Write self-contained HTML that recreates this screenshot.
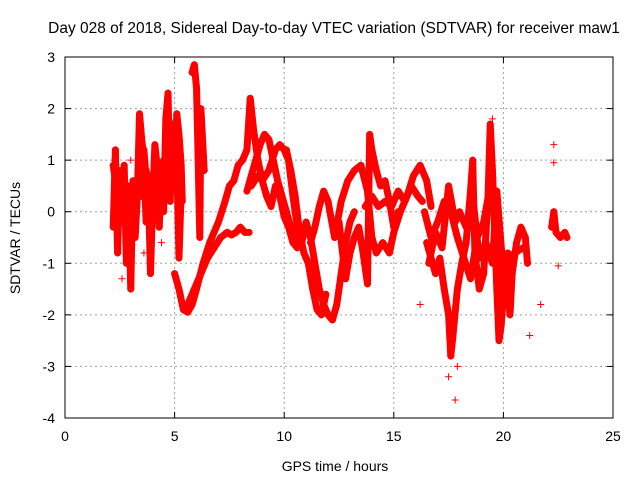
<!DOCTYPE html>
<html><head><meta charset="utf-8"><style>
body{margin:0;background:#fff}
svg{display:block;font-family:"Liberation Sans",sans-serif}
</style></head><body>
<svg id="c" width="640" height="480">
<text x="334" y="33" text-anchor="middle" font-size="15.5">Day 028 of 2018, Sidereal Day-to-day VTEC variation (SDTVAR) for receiver maw1</text>
<text x="335" y="471" text-anchor="middle" font-size="14">GPS time / hours</text>
<text transform="translate(20,238) rotate(-90)" text-anchor="middle" font-size="14">SDTVAR / TECUs</text>
<g id="grid"></g><g id="marks"></g>
<rect x="65" y="57" width="548" height="361" fill="none" stroke="#000"/>
</svg>
<script>
const xTicks=[0,5,10,15,20,25];
const yTicks=[-4,-3,-2,-1,0,1,2,3];
const trackA=[[2.2,-0.3],[2.3,1.2],[2.4,-0.8],[2.5,0.8],[2.6,-0.2],[2.7,0.9],[2.8,-1.0],[2.9,0.2],[3.0,-1.5],[3.1,0.6],[3.2,-0.5],[3.3,0.3],[3.4,1.9],[3.5,1.4],[3.6,1.0],[3.7,-0.2],[3.8,0.5],[3.9,-1.2],[4.0,0.2],[4.1,1.3],[4.2,0.9],[4.3,-0.3],[4.4,0.8],[4.5,0.0],[4.6,1.8],[4.7,2.3],[4.8,0.2],[4.9,1.7],[5.0,0.6],[5.1,1.9],[5.2,1.5],[5.3,0.9],[5.35,0.2]];
const trackB=[[2.3,0.6],[2.5,0.1],[2.7,0.4],[2.9,0.5],[3.1,-0.2],[3.3,0.5],[3.5,0.3],[3.7,0.8],[3.9,0.4],[4.1,-0.1],[4.3,0.5],[4.5,1.0],[4.7,0.9],[4.9,0.6],[5.1,1.0],[5.2,-0.9],[5.3,0.4]];
const trackB2=[[2.2,0.9],[2.4,0.3],[2.6,0.6],[2.8,0.0],[3.0,0.4],[3.2,0.2],[3.4,0.9],[3.6,1.2],[3.8,0.1],[4.0,0.7],[4.2,0.3],[4.4,0.2],[4.6,0.6],[4.8,1.2],[5.0,1.4],[5.2,0.7]];
const trackSpike=[[5.8,2.7],[5.9,2.85],[6.0,2.4],[6.05,1.5],[6.1,0.5],[6.15,-0.5],[6.2,2.0],[6.3,1.2],[6.35,0.8]];
const trackC=[[5.0,-1.2],[5.2,-1.5],[5.4,-1.9],[5.6,-1.95],[5.8,-1.8],[6.0,-1.5],[6.3,-1.0],[6.6,-0.6],[7.0,-0.2],[7.3,0.2],[7.5,0.5],[7.7,0.6],[7.9,0.9],[8.1,1.0],[8.3,1.2],[8.45,2.2],[8.6,1.6],[8.8,1.0],[9.0,0.6],[9.2,0.3],[9.4,0.1],[9.6,0.5],[9.8,0.3],[10.0,-0.1],[10.2,-0.3],[10.4,-0.6],[10.6,-0.7],[10.8,-0.6],[11.0,-0.2],[11.2,-0.5],[11.4,-1.0],[11.6,-1.5],[11.8,-1.8],[12.0,-2.0],[12.2,-2.1],[12.4,-1.8],[12.6,-1.2],[12.8,-0.6],[13.0,-0.2],[13.2,0.0]];
const trackD=[[5.6,-1.8],[5.9,-1.5],[6.2,-1.2],[6.5,-0.9],[6.8,-0.7],[7.1,-0.5],[7.4,-0.4],[7.6,-0.45],[7.8,-0.4],[8.0,-0.3],[8.2,-0.4],[8.4,-0.4]];
const trackE=[[8.3,0.4],[8.5,0.7],[8.7,1.0],[8.9,1.3],[9.1,1.5],[9.3,1.4],[9.5,1.0],[9.7,0.6],[9.9,0.3],[10.1,0.0],[10.3,-0.3],[10.5,-0.5],[10.7,-0.6]];
const trackF=[[8.5,0.5],[8.8,0.7],[9.0,0.6],[9.3,0.8],[9.6,1.2],[9.8,1.3],[10.0,1.2],[10.2,1.0],[10.4,0.3],[10.6,-0.3],[10.8,-0.5]];
const trackG=[[10.1,1.2],[10.3,0.8],[10.5,0.3],[10.7,-0.4],[10.9,-0.8],[11.1,-1.0],[11.3,-1.5],[11.5,-1.9],[11.7,-2.0],[11.9,-1.6]];
const trackH=[[11.2,-0.6],[11.4,-0.3],[11.6,0.1],[11.8,0.4],[12.0,0.2],[12.3,-0.5],[12.6,0.2],[12.9,0.6],[13.2,0.8],[13.5,0.9],[13.8,0.4],[14.0,-0.5],[14.2,-0.8],[14.5,-0.6],[14.8,-0.8],[15.0,-0.4],[15.3,0.0],[15.6,0.3],[15.9,0.7],[16.2,0.9],[16.5,0.6],[16.7,0.1]];
const trackK=[[12.5,-0.2],[12.8,-1.3],[13.0,-0.8],[13.2,-0.5],[13.4,-0.3],[13.6,-0.8],[13.8,-1.4],[13.9,1.5],[14.0,1.2],[14.2,0.8],[14.4,0.5],[14.6,0.6],[14.8,0.2],[15.0,-0.3],[15.2,0.0]];
const trackJ=[[13.7,0.1],[14.0,0.3],[14.3,0.1],[14.6,0.2],[14.9,0.1],[15.2,0.4],[15.5,0.2],[15.8,0.5],[16.1,0.3],[16.3,0.2]];
const trackL=[[16.5,-0.6],[16.7,-0.9],[16.9,-1.2],[17.1,-0.9],[17.3,-1.5],[17.5,-2.0],[17.6,-2.8],[17.7,-2.4],[17.9,-1.5],[18.1,-1.0],[18.3,-0.6],[18.5,0.4],[18.6,1.0],[18.7,-0.8],[18.9,-1.5],[19.1,-1.2],[19.3,0.3],[19.4,1.7],[19.5,0.8],[19.6,-0.3],[19.7,-1.5],[19.8,-2.5],[19.9,-2.2],[20.1,-1.0],[20.3,-2.0],[20.4,-1.2],[20.6,-0.6],[20.8,-0.3],[21.0,-0.5],[21.1,-1.0]];
const trackM=[[16.4,0.0],[16.7,-0.5],[17.0,-0.2],[17.3,0.2],[17.6,0.0],[17.9,-0.5],[18.2,-0.9],[18.5,-1.3],[18.8,-0.5],[19.1,-0.2],[19.4,0.5],[19.6,0.0],[19.9,-1.5],[20.2,-0.8]];
const trackN=[[16.6,-1.0],[16.9,-0.4],[17.2,-0.7],[17.5,0.5],[17.8,-0.2],[18.0,0.0],[18.3,-0.3],[18.6,0.3],[18.9,-0.9],[19.2,-0.6],[19.5,-1.0],[19.7,0.4],[20.0,-1.2],[20.5,-0.8],[20.9,-0.7]];
const trackTail=[[22.2,-0.3],[22.3,0.0],[22.4,-0.4],[22.6,-0.5],[22.8,-0.4],[22.9,-0.5]];
const isolated=[[17.8,-3.65],[22.3,1.3],[22.3,0.95],[22.5,-1.05],[21.7,-1.8],[21.2,-2.4],[17.9,-3.0],[16.2,-1.8],[17.5,-3.2],[19.5,1.8],[2.6,-1.3],[3.6,-0.8],[3.0,1.0],[4.4,-0.6]];
const tracks=[trackA,trackB,trackB2,trackSpike,trackC,trackD,trackE,trackF,trackG,trackH,trackK,trackJ,trackL,trackM,trackN,trackTail];
const X0=65,X1=613,Y0=418,Y1=57;
const sx=t=>X0+(t-0)/(25-0)*(X1-X0);
const sy=v=>Y0-(v-(-4))/(3-(-4))*(Y0-Y1);
const NS="http://www.w3.org/2000/svg";
const grid=document.getElementById('grid'),marks=document.getElementById('marks');
function mk(tag,attrs,parent){const e=document.createElementNS(NS,tag);for(const k in attrs)e.setAttribute(k,attrs[k]);parent.appendChild(e);return e;}
xTicks.forEach(t=>{const x=sx(t);
 if(t>0&&t<25){const g=mk('line',{x1:x,x2:x,y1:Y1,y2:Y0,stroke:'#a0a0a0','stroke-dasharray':'2,3'},grid);
 
 }
 mk('line',{x1:x,x2:x,y1:Y0,y2:Y0-6,stroke:'#000'},grid);mk('line',{x1:x,x2:x,y1:Y1,y2:Y1+6,stroke:'#000'},grid);
 const l=mk('text',{x:x,y:Y0+23,'text-anchor':'middle','font-size':'14'},grid);l.textContent=t;
 
 });
yTicks.forEach(v=>{const y=sy(v);
 if(v>-4&&v<3){const g=mk('line',{x1:X0,x2:X1,y1:y,y2:y,stroke:'#a0a0a0','stroke-dasharray':'2,3'},grid);
 
 }
 mk('line',{x1:X0,x2:X0+6,y1:y,y2:y,stroke:'#000'},grid);mk('line',{x1:X1,x2:X1-6,y1:y,y2:y,stroke:'#000'},grid);
 const l=mk('text',{x:X0-10,y:y+5,'text-anchor':'end','font-size':'14'},grid);l.textContent=v;
 
 });
function plus(t,v){const x=sx(t),y=sy(v);
 const p=mk('path',{d:`M${x-3.5},${y}h7M${x},${y-3.5}v7`,stroke:'#f00','stroke-width':'1'},marks);
 
 }
tracks.forEach(tr=>{
 const pl=mk('polyline',{points:tr.map(p=>sx(p[0])+','+sy(p[1])).join(' '),fill:'none',stroke:'#f00','stroke-width':'7','stroke-linejoin':'round','stroke-linecap':'round'},marks);
 
 
 tr.forEach(p=>plus(p[0],p[1]));});
isolated.forEach(p=>plus(p[0],p[1]));
</script>
</body></html>
